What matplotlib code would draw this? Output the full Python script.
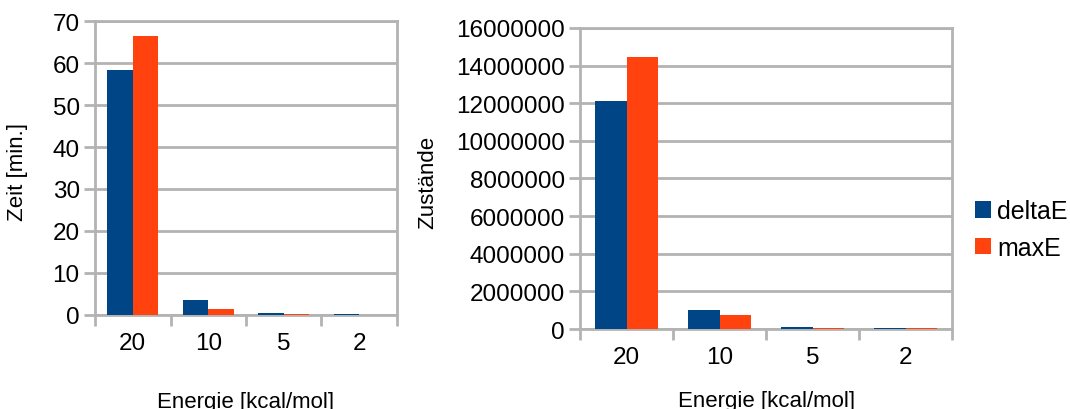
import matplotlib
matplotlib.use('Agg')
import matplotlib.pyplot as plt
import numpy as np

plt.rcParams['font.family'] = ['Liberation Sans', 'DejaVu Sans']

energie = ['20', '10', '5', '2']
zeit_delta = [58.3, 3.6, 0.4, 0.15]
zeit_max = [66.4, 1.5, 0.2, 0.1]
zust_delta = [12130000, 1020000, 100000, 40000]
zust_max = [14470000, 760000, 80000, 30000]

blue = '#004586'
orange = '#ff420e'
grey = '#b3b3b3'

fig = plt.figure(figsize=(10.7, 4.1), dpi=100)
ax1 = fig.add_axes([0.0888, 0.2293, 0.2822, 0.7170])
ax2 = fig.add_axes([0.5421, 0.1951, 0.3477, 0.7342])


def draw(ax, d1, d2, ymax, ystep, ylabel):
    x = np.arange(len(energie))
    w = 0.34
    ax.bar(x - w / 2, d1, w, color=blue, label='deltaE', zorder=3)
    ax.bar(x + w / 2, d2, w, color=orange, label='maxE', zorder=3)
    ax.set_xlim(-0.5, len(energie) - 0.5)
    ax.set_ylim(0, ymax)
    ax.set_yticks(np.arange(0, ymax + 1, ystep))
    ax.yaxis.set_major_formatter(matplotlib.ticker.FuncFormatter(lambda v, p: '%d' % v))
    ax.set_xticks(x)
    ax.set_xticklabels(energie)
    ax.set_xticks(np.arange(-0.5, len(energie)), minor=True)
    ax.tick_params(axis='x', which='major', length=0, pad=12, labelsize=17.5)
    ax.tick_params(axis='x', which='minor', length=8, width=2, color=grey)
    ax.tick_params(axis='y', length=8, width=2, color=grey, labelsize=17.5, pad=3)
    ax.grid(axis='y', color=grey, linewidth=2, zorder=0)
    for s in ax.spines.values():
        s.set_color(grey)
        s.set_linewidth(2)
    ax.set_xlabel('Energie [kcal/mol]', fontsize=16)
    ax.set_ylabel(ylabel, fontsize=16)


draw(ax1, zeit_delta, zeit_max, 70, 10, 'Zeit [min.]')
draw(ax2, zust_delta, zust_max, 16000000, 2000000, 'Zustände')

ax1.xaxis.set_label_coords(0.5, -0.257)
ax2.xaxis.set_label_coords(0.5, -0.203)
ax1.yaxis.set_label_coords(-0.222, 0.49)
ax2.yaxis.set_label_coords(-0.38, 0.49)

ax2.legend(loc='center left', bbox_to_anchor=(1.0, 0.33), frameon=False,
           fontsize=18, handlelength=0.65, handleheight=0.65, handletextpad=0.25,
           labelspacing=0.5)

fig.savefig('out.png', dpi=100)
